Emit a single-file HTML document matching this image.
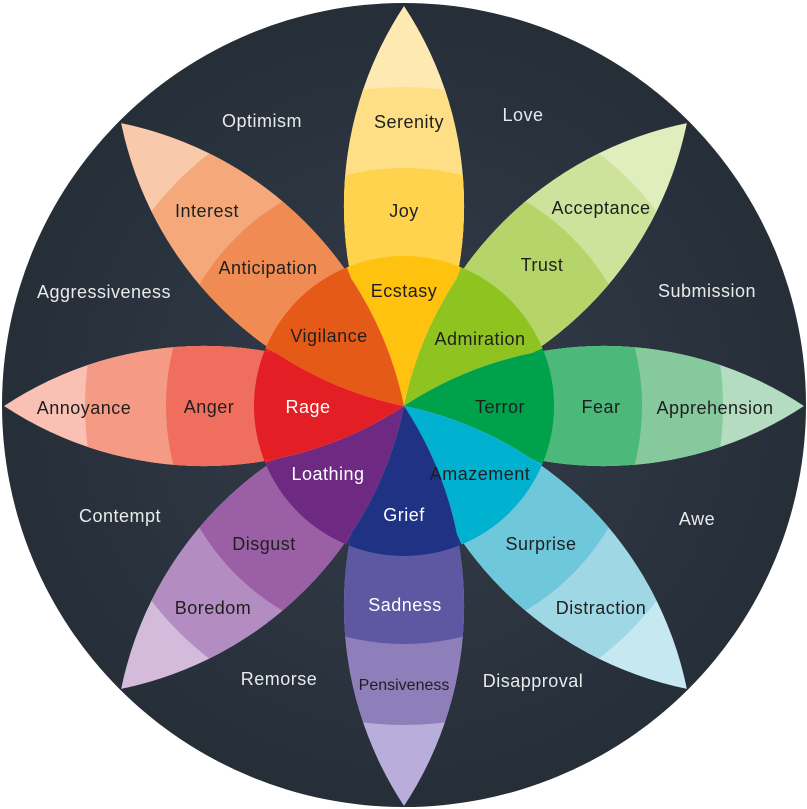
<!DOCTYPE html>
<html><head><meta charset="utf-8"><style>
html,body{margin:0;padding:0;background:#fff;width:807px;height:809px;overflow:hidden;}
svg{display:block;position:absolute;left:0;top:0;}
text{font-family:"Liberation Sans",sans-serif;font-size:18px;letter-spacing:0.5px;text-anchor:middle;}
</style></head><body>
<svg width="807" height="809" viewBox="0 0 807 809" xmlns="http://www.w3.org/2000/svg">
<defs>
<radialGradient id="bg" cx="50%" cy="50%" r="50%">
<stop offset="0" stop-color="#333d4a"/><stop offset="1" stop-color="#262e38"/>
</radialGradient>
<clipPath id="lens"><path d="M0,0 A363,363 0 0,1 0,-400 A363,363 0 0,1 0,0 Z"/></clipPath>
</defs>
<circle cx="404" cy="405" r="402" fill="url(#bg)"/>
<g transform="translate(404,406)">
<g>
<path d="M0,0 L-57.4,-138.6 A150,150 0 0,1 57.4,-138.6 Z" fill="#ffc20e"/>
<path d="M0,0 L57.4,-138.6 A150,150 0 0,1 138.6,-57.4 Z" fill="#8fc31f"/>
<path d="M0,0 L138.6,-57.4 A150,150 0 0,1 138.6,57.4 Z" fill="#00a14b"/>
<path d="M0,0 L138.6,57.4 A150,150 0 0,1 57.4,138.6 Z" fill="#00b1d0"/>
<path d="M0,0 L57.4,138.6 A150,150 0 0,1 -57.4,138.6 Z" fill="#1f3284"/>
<path d="M0,0 L-57.4,138.6 A150,150 0 0,1 -138.6,57.4 Z" fill="#6e2a83"/>
<path d="M0,0 L-138.6,57.4 A150,150 0 0,1 -138.6,-57.4 Z" fill="#e31e24"/>
<path d="M0,0 L-138.6,-57.4 A150,150 0 0,1 -57.4,-138.6 Z" fill="#e65a18"/>
</g>
<g clip-path="url(#lens)"><circle r="400" fill="#ffe9b3"/><circle r="319" fill="#ffdf85"/><circle r="238" fill="#ffd34e"/><circle r="150" fill="#ffc20e"/></g>
<g transform="rotate(45)" clip-path="url(#lens)"><circle r="400" fill="#e0edbd"/><circle r="319" fill="#cde29a"/><circle r="238" fill="#b5d56a"/><circle r="150" fill="#8fc31f"/></g>
<g transform="rotate(90)" clip-path="url(#lens)"><circle r="400" fill="#b3dcc0"/><circle r="319" fill="#86c99d"/><circle r="238" fill="#4cb87a"/><circle r="150" fill="#00a14b"/></g>
<g transform="rotate(135)" clip-path="url(#lens)"><circle r="400" fill="#c6e8f0"/><circle r="319" fill="#9fd7e5"/><circle r="238" fill="#6fc7dc"/><circle r="150" fill="#00b1d0"/></g>
<g transform="rotate(180)" clip-path="url(#lens)"><circle r="400" fill="#b9addb"/><circle r="319" fill="#8e7fba"/><circle r="238" fill="#5e57a2"/><circle r="150" fill="#1f3284"/></g>
<g transform="rotate(225)" clip-path="url(#lens)"><circle r="400" fill="#d4bbdb"/><circle r="319" fill="#b38cc1"/><circle r="238" fill="#9b5fa5"/><circle r="150" fill="#6e2a83"/></g>
<g transform="rotate(270)" clip-path="url(#lens)"><circle r="400" fill="#f9c0b3"/><circle r="319" fill="#f59a84"/><circle r="238" fill="#ef6e5e"/><circle r="150" fill="#e31e24"/></g>
<g transform="rotate(315)" clip-path="url(#lens)"><circle r="400" fill="#f9c9ab"/><circle r="319" fill="#f5a97a"/><circle r="238" fill="#f08c53"/><circle r="150" fill="#e65a18"/></g>
</g>
<g fill="#1f1f1f">
<text x="409" y="128">Serenity</text>
<text x="404" y="217">Joy</text>
<text x="404" y="297">Ecstasy</text>
<text x="207" y="217">Interest</text>
<text x="268" y="274">Anticipation</text>
<text x="329" y="342">Vigilance</text>
<text x="601" y="214">Acceptance</text>
<text x="542" y="271">Trust</text>
<text x="480" y="345">Admiration</text>
<text x="84" y="414">Annoyance</text>
<text x="209" y="413">Anger</text>
<text x="500" y="413">Terror</text>
<text x="601" y="413">Fear</text>
<text x="715" y="414">Apprehension</text>
<text x="480" y="480">Amazement</text>
<text x="264" y="550">Disgust</text>
<text x="541" y="550">Surprise</text>
<text x="213" y="614">Boredom</text>
<text x="601" y="614">Distraction</text>
<text x="404" y="690" style="font-size:16px;letter-spacing:0">Pensiveness</text>
</g>
<g fill="#ffffff">
<text x="308" y="413">Rage</text>
<text x="328" y="480">Loathing</text>
<text x="404" y="521">Grief</text>
<text x="405" y="611">Sadness</text>
</g>
<g fill="#e8eaec">
<text x="523" y="121">Love</text>
<text x="262" y="127">Optimism</text>
<text x="104" y="298">Aggressiveness</text>
<text x="707" y="297">Submission</text>
<text x="120" y="522">Contempt</text>
<text x="697" y="525">Awe</text>
<text x="279" y="685">Remorse</text>
<text x="533" y="687">Disapproval</text>
</g>
</svg>
</body></html>
